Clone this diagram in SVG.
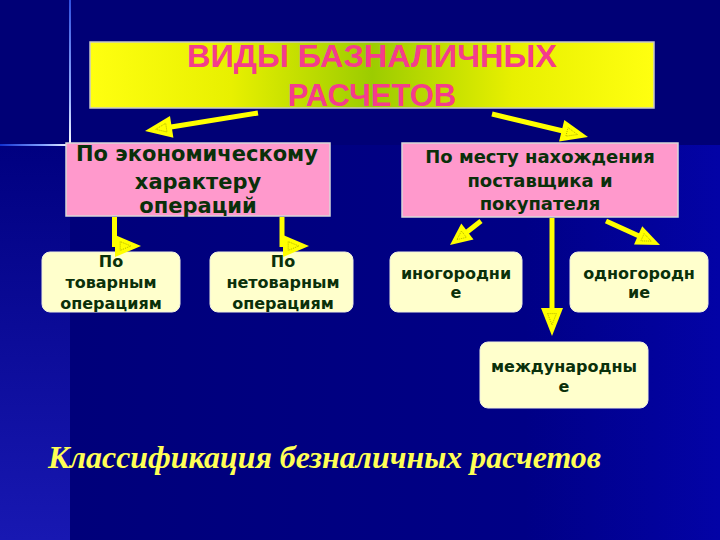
<svg xmlns="http://www.w3.org/2000/svg" width="720" height="540" viewBox="0 0 720 540">
<defs>
<linearGradient id="bgMain" x1="0" y1="0" x2="1" y2="0">
<stop offset="0" stop-color="#00007a"/>
<stop offset="0.7" stop-color="#000086"/>
<stop offset="1" stop-color="#0303a6"/>
</linearGradient>
<linearGradient id="bgLeft" x1="0" y1="0" x2="0" y2="1">
<stop offset="0" stop-color="#000080"/>
<stop offset="1" stop-color="#1818b2"/>
</linearGradient>
<linearGradient id="vline" x1="0" y1="0" x2="0" y2="1">
<stop offset="0" stop-color="#3050e0"/>
<stop offset="0.7" stop-color="#a0b8ff"/>
<stop offset="1" stop-color="#ffffff"/>
</linearGradient>
<linearGradient id="hline" x1="0" y1="0" x2="1" y2="0">
<stop offset="0" stop-color="#1030d0"/>
<stop offset="0.6" stop-color="#80a0ff"/>
<stop offset="1" stop-color="#ffffff"/>
</linearGradient>
<linearGradient id="titleFill" x1="0" y1="0" x2="1" y2="0">
<stop offset="0" stop-color="#ffff10"/>
<stop offset="0.25" stop-color="#e8f000"/>
<stop offset="0.5" stop-color="#9ccc00"/>
<stop offset="0.75" stop-color="#e8f000"/>
<stop offset="1" stop-color="#ffff10"/>
</linearGradient>
<style>
.pink{fill:#ff99cc;stroke:#d8d8d8;stroke-width:1.5}
.cream{fill:#ffffcc;stroke:#f0f0e0;stroke-width:1}
.t1{font-family:"DejaVu Sans",Verdana,sans-serif;font-weight:bold;fill:#0a300a;text-anchor:middle}
.title{font-family:"Liberation Sans",Arial,sans-serif;font-weight:bold;font-size:31px;fill:#f53c8c;text-anchor:middle}
.ln{stroke:#ffff00;stroke-width:5;fill:none}
.hd{fill:#ffff00}
.in{fill:none;stroke:#a0a000;stroke-width:0.8;stroke-dasharray:1 1}
</style>
</defs>
<rect x="0" y="0" width="720" height="540" fill="#000076"/>
<rect x="70" y="145" width="650" height="395" fill="url(#bgMain)"/>
<rect x="0" y="145" width="70" height="395" fill="url(#bgLeft)"/>
<rect x="69" y="0" width="2" height="145" fill="url(#vline)"/>
<rect x="0" y="144" width="71" height="2" fill="url(#hline)"/>

<g id="title">
<rect x="90" y="42" width="564" height="66" fill="url(#titleFill)" stroke="#c8c8c8" stroke-width="1.5"/>
<text class="title" x="372" y="67" textLength="370" lengthAdjust="spacingAndGlyphs">ВИДЫ БАЗНАЛИЧНЫХ</text>
<text class="title" x="372" y="106">РАСЧЕТОВ</text>
</g>

<g id="econ">
<rect class="pink" x="66" y="143" width="264" height="73"/>
<text class="t1" font-size="21" x="197" y="161">По экономическому</text>
<text class="t1" font-size="21" x="198" y="189">характеру</text>
<text class="t1" font-size="21" x="198" y="213">операций</text>
</g>

<g id="place">
<rect class="pink" x="402" y="143" width="276" height="74"/>
<text class="t1" font-size="18" x="540" y="163">По месту нахождения</text>
<text class="t1" font-size="18" x="540" y="187">поставщика и</text>
<text class="t1" font-size="18" x="540" y="210">покупателя</text>
</g>

<g id="goods">
<rect class="cream" x="42" y="252" width="138" height="60" rx="8"/>
<text class="t1" font-size="16" x="111" y="267">По</text>
<text class="t1" font-size="16" x="111" y="288">товарным</text>
<text class="t1" font-size="16" x="111" y="309">операциям</text>
</g>

<g id="nongoods">
<rect class="cream" x="210" y="252" width="143" height="60" rx="8"/>
<text class="t1" font-size="16" x="283" y="267">По</text>
<text class="t1" font-size="16" x="283" y="288">нетоварным</text>
<text class="t1" font-size="16" x="283" y="309">операциям</text>
</g>

<g id="othercity">
<rect class="cream" x="390" y="252" width="132" height="60" rx="8"/>
<text class="t1" font-size="16" x="456" y="279">иногородни</text>
<text class="t1" font-size="16" x="456" y="298">е</text>
</g>

<g id="samecity">
<rect class="cream" x="570" y="252" width="138" height="60" rx="8"/>
<text class="t1" font-size="16" x="639" y="279">одногородн</text>
<text class="t1" font-size="16" x="639" y="298">ие</text>
</g>

<g id="intl">
<rect class="cream" x="480" y="342" width="168" height="66" rx="8"/>
<text class="t1" font-size="16" x="564" y="372">международны</text>
<text class="t1" font-size="16" x="564" y="392">е</text>
</g>

<g id="connectors">
<line class="ln" x1="258" y1="113" x2="171" y2="127"/>
<polygon class="hd" points="145,131 170,116 173.4,137.7"/>
<polygon class="in" points="155.7,129.3 165.7,123.3 167,132"/>

<line class="ln" x1="492" y1="114" x2="563" y2="131"/>
<polygon class="hd" points="588,137 559.1,141.4 564.3,120"/>
<polygon class="in" points="577.5,134.5 565.9,136.2 568,127.7"/>

<line class="ln" x1="114.5" y1="217" x2="114.5" y2="247"/>
<polygon class="hd" points="115,235 115,257 141,246"/>
<polygon class="in" points="120.2,241.6 120.2,250.4 130.8,246"/>

<line class="ln" x1="282" y1="217" x2="282" y2="247"/>
<polygon class="hd" points="283,235 283,257 309,246"/>
<polygon class="in" points="288.2,241.6 288.2,250.4 298.8,246"/>

<line class="ln" x1="481" y1="221" x2="467" y2="232"/>
<polygon class="hd" points="450,245 473.5,239.4 461.3,223.6"/>
<polygon class="in" points="456.9,239.6 466.4,237.4 461.5,231"/>

<line class="ln" x1="606" y1="221" x2="639" y2="236"/>
<polygon class="hd" points="660,245 634,244.4 642.2,226.2"/>
<polygon class="in" points="651.2,241.1 640.9,240.9 644.1,233.6"/>

<line class="ln" x1="552" y1="218" x2="552" y2="310"/>
<polygon class="hd" points="541,308 563,308 552,336"/>
<polygon class="in" points="547.6,313.6 556.4,313.6 552,324.8"/>
</g>

<text x="48" y="468" font-family="'Liberation Serif','Times New Roman',serif" font-weight="bold" font-style="italic" font-size="31" fill="#ffff55" textLength="553" lengthAdjust="spacingAndGlyphs">Классификация безналичных расчетов</text>
</svg>
